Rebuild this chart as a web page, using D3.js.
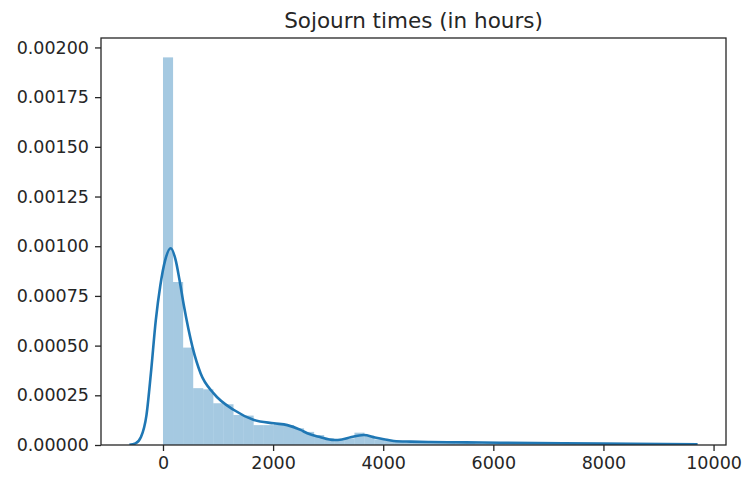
<!DOCTYPE html>
<html>
<head>
<meta charset="utf-8">
<script src="https://cdn.jsdelivr.net/npm/d3@7"></script>
<style>
  body { margin: 0; background: #fff; }
  svg { display: block; }
  text { font-family: "DejaVu Sans", sans-serif; fill: #262626; }
</style>
</head>
<body>
<svg id="chart" width="744" height="477"></svg>
<script>
// ---------- data ----------
const title = "Sojourn times (in hours)";
const binStart = 0;
const binWidth = 183;
const histDensity = [
  0.00195, 0.00082, 0.00049, 0.000286, 0.000280, 0.000210, 0.000205, 0.000151, 0.000148, 0.000100,
  0.000100, 0.000106, 0.000100, 0.000084, 0.000066, 0.000050, 0.000034, 0.000024, 0.000033, 0.000062,
  0.000046, 0.000028, 0.000021, 0.000018, 0.000016, 0.000014, 0.000012, 0.000011, 0.000010, 0.000009,
  0.000010, 0.000008, 0.000009, 0.000008, 0.000007, 0.000008, 0.000006, 0.000007, 0.000005, 0.000006,
  0.000005, 0.000004, 0.000005, 0.000004, 0.000003, 0.000004, 0.000003, 0.000003, 0.000002, 0.000003
];
const kdeX = [-610, -500, -400, -300, -220, -130, -50, 40, 140, 230, 300, 380, 534, 684, 920, 1289, 1652, 2015, 2258, 2499, 2620, 2850, 3103, 3250, 3407, 3648, 3850, 4011, 4192, 4500, 4858, 5500, 6129, 7272, 8500, 9710];
const kdeY = [0.000001, 0.000008, 0.00004, 0.00015, 0.00036, 0.00063, 0.00080, 0.00093, 0.00099, 0.00093, 0.00083, 0.0007, 0.000495, 0.00036, 0.00026, 0.000176, 0.000126, 0.000109, 0.0001, 0.000076, 0.000059, 0.00004, 0.000025, 0.000028, 0.000039, 0.00005, 0.000038, 0.000029, 0.00002, 0.000017, 0.000015, 0.000013, 0.0000116, 0.0000086, 0.000006, 0.000004];
const yTicks = [0, 0.00025, 0.0005, 0.00075, 0.001, 0.00125, 0.0015, 0.00175, 0.002];
const xTicks = [0, 2000, 4000, 6000, 8000, 10000];

// ---------- layout ----------
const margin = { left: 101, right: 18, top: 38, bottom: 32 };
const W = 744, H = 477;
const iw = W - margin.left - margin.right;
const ih = H - margin.top - margin.bottom;
const svg = d3.select("#chart");
const g = svg.append("g").attr("transform", `translate(${margin.left},${margin.top})`);

const xMin = d3.min(kdeX), xMax = d3.max(kdeX);
const span = xMax - xMin;
const x = d3.scaleLinear().domain([xMin - 0.05 * span, xMax + 0.05 * span]).range([0, iw]);
const y = d3.scaleLinear().domain([0, d3.max(histDensity) * 1.05]).range([ih, 0]);

g.append("clipPath").attr("id", "clip").append("rect").attr("width", iw).attr("height", ih);

const bars = histDensity.map((d, i) => ({ x0: binStart + i * binWidth, x1: binStart + (i + 1) * binWidth, v: d }));
g.append("g").attr("clip-path", "url(#clip)")
  .selectAll("rect").data(bars).join("rect")
  .attr("x", d => x(d.x0))
  .attr("width", d => x(d.x1) - x(d.x0))
  .attr("y", d => y(d.v))
  .attr("height", d => y(0) - y(d.v))
  .attr("fill", "#1f77b4").attr("fill-opacity", 0.4);

const kde = kdeX.map((v, i) => [v, kdeY[i]]);
g.append("path").datum(kde)
  .attr("clip-path", "url(#clip)")
  .attr("fill", "none").attr("stroke", "#1f77b4").attr("stroke-width", 2.6)
  .attr("stroke-linejoin", "round")
  .attr("d", d3.line().x(d => x(d[0])).y(d => y(d[1])).curve(d3.curveMonotoneX));

// axes
const xAxis = g.append("g").attr("transform", `translate(0,${ih})`)
  .call(d3.axisBottom(x).tickValues(xTicks).tickFormat(d3.format("d")).tickSizeOuter(0).tickSize(6).tickPadding(6));
const yAxis = g.append("g")
  .call(d3.axisLeft(y).tickValues(yTicks).tickFormat(d3.format(".5f")).tickSizeOuter(0).tickSize(6).tickPadding(6));
[xAxis, yAxis].forEach(a => {
  a.select(".domain").remove();
  a.selectAll(".tick line").attr("stroke", "#262626").attr("stroke-width", 1.3);
  a.selectAll(".tick text").attr("font-size", 17.5).attr("font-family", "DejaVu Sans, sans-serif").attr("fill", "#262626");
});

// frame
g.append("rect").attr("width", iw).attr("height", ih)
  .attr("fill", "none").attr("stroke", "#262626").attr("stroke-width", 1.3);

// title
svg.append("text").attr("x", margin.left + iw / 2).attr("y", 28)
  .attr("text-anchor", "middle").attr("font-size", 21.5).text(title);
</script>
</body>
</html>
